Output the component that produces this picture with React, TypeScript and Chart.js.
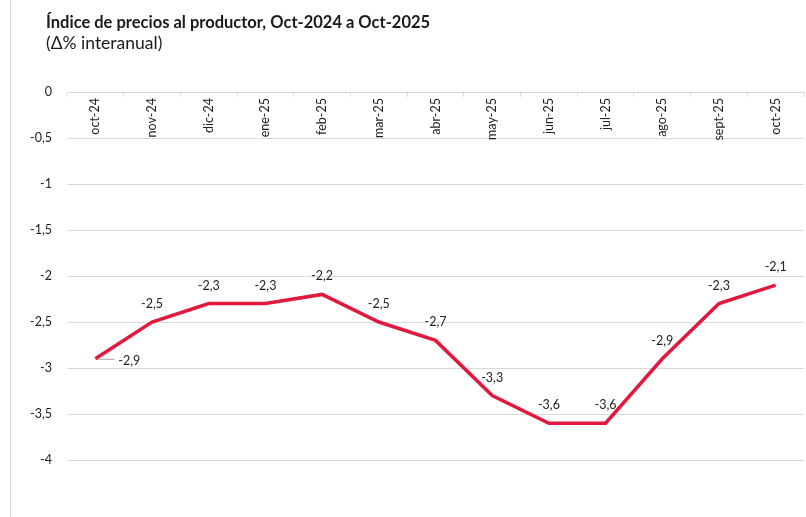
import React, { useEffect, useRef } from 'react';
import { Chart, registerables } from 'chart.js';

Chart.register(...registerables);

const TITLE = 'Índice de precios al productor, Oct-2024 a Oct-2025';
const SUBTITLE = '(Δ% interanual)';

const categories = [
  'oct-24', 'nov-24', 'dic-24', 'ene-25', 'feb-25', 'mar-25', 'abr-25',
  'may-25', 'jun-25', 'jul-25', 'ago-25', 'sept-25', 'oct-25',
];
const values = [-2.9, -2.5, -2.3, -2.3, -2.2, -2.5, -2.7, -3.3, -3.6, -3.6, -2.9, -2.3, -2.1];

const yMin = -4;
const yMax = 0;
const yStep = 0.5;

const FONT = 'Lato, "Open Sans", sans-serif';
const fmt = (v: number) => String(v).replace('.', ',');

const labelPlugin = {
  id: 'valueLabels',
  afterDatasetsDraw(chart: any) {
    const ctx = chart.ctx;
    const meta = chart.getDatasetMeta(0);
    const data = chart.data.datasets[0].data as number[];
    ctx.save();
    ctx.font = `12.5px ${FONT}`;
    ctx.fillStyle = '#222';
    ctx.textBaseline = 'middle';
    meta.data.forEach((pt: any, i: number) => {
      const txt = fmt(data[i]);
      if (i === 0) {
        ctx.strokeStyle = '#a6a6a6';
        ctx.lineWidth = 1;
        ctx.beginPath();
        ctx.moveTo(pt.x + 2, pt.y + 0.5);
        ctx.lineTo(pt.x + 19, pt.y + 0.5);
        ctx.stroke();
        ctx.textAlign = 'left';
        ctx.fillText(txt, pt.x + 23, pt.y + 2);
      } else {
        ctx.textAlign = 'center';
        ctx.fillText(txt, pt.x, pt.y - 18);
      }
    });
    ctx.restore();
  },
};

export default function App() {
  const ref = useRef<HTMLCanvasElement | null>(null);

  useEffect(() => {
    if (!ref.current) return;
    const chart = new Chart(ref.current, {
      type: 'line',
      data: {
        labels: categories,
        datasets: [
          {
            data: values,
            borderColor: '#e3183d',
            borderWidth: 3.5,
            pointRadius: 0,
            tension: 0,
            fill: false,
          },
        ],
      },
      options: {
        responsive: false,
        maintainAspectRatio: false,
        animation: false,
        layout: { padding: { top: 92, bottom: 57, right: 2, left: 0 } },
        plugins: {
          legend: { display: false },
          tooltip: { enabled: false },
          title: { display: false },
        },
        scales: {
          x: {
            type: 'category',
            position: { y: 0 } as any,
            offset: true,
            grid: {
              drawOnChartArea: false,
              drawTicks: true,
              tickLength: 4,
              color: '#d9d9d9',
              offset: true,
            },
            border: { display: true, color: '#d9d9d9', width: 1 },
            ticks: {
              autoSkip: false,
              minRotation: 90,
              maxRotation: 90,
              padding: 2,
              color: '#222',
              font: { family: FONT, size: 12.5 },
            },
          },
          y: {
            min: yMin,
            max: yMax,
            ticks: {
              stepSize: yStep,
              padding: 15,
              color: '#222',
              font: { family: FONT, size: 12.5 },
              callback: (v: any) => fmt(Number(v)),
            },
            grid: { color: '#d9d9d9', drawTicks: false, lineWidth: 1 },
            border: { display: false },
            afterFit: (s: any) => {
              s.width = 67;
            },
          },
        },
      },
      plugins: [labelPlugin],
    });
    return () => chart.destroy();
  }, []);

  return (
    <div
      style={{
        position: 'absolute',
        left: 0,
        top: 0,
        width: 806,
        height: 517,
        background: '#fff',
        overflow: 'hidden',
      }}
    >
      <div
        style={{
          position: 'absolute',
          left: 10,
          top: 0,
          width: 1,
          height: 517,
          background: '#d9d9d9',
        }}
      />
      <canvas
        ref={ref}
        width={806}
        height={517}
        style={{ position: 'absolute', left: 0, top: 0, width: 806, height: 517 }}
      />
      <div
        style={{
          position: 'absolute',
          left: 46,
          top: 11,
          fontFamily: FONT,
          fontWeight: 700,
          fontSize: 16.5,
          lineHeight: '22px',
          color: '#1a1a1a',
          whiteSpace: 'nowrap',
        }}
      >
        {TITLE}
      </div>
      <div
        style={{
          position: 'absolute',
          left: 46,
          top: 33,
          fontFamily: FONT,
          fontSize: 17.5,
          lineHeight: '20px',
          color: '#1a1a1a',
          whiteSpace: 'nowrap',
        }}
      >
        {SUBTITLE}
      </div>
    </div>
  );
}
